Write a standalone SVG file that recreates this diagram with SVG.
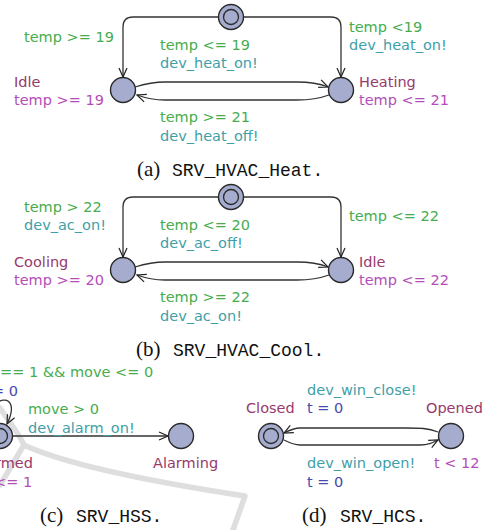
<svg xmlns="http://www.w3.org/2000/svg" width="488" height="530" viewBox="0 0 488 530">
<style>
text{font-family:"DejaVu Sans",sans-serif;font-size:14.5px}
.g{fill:#45ad4e}.s{fill:#3f9fa8}.i{fill:#b34db8}.n{fill:#973a6c}.a{fill:#4848b0}
.node{fill:#a5acce;stroke:#2a2a2a;stroke-width:1.4}
.inner{fill:none;stroke:#2a2a2a;stroke-width:1.3}
.e{fill:none;stroke:#333;stroke-width:1.3;marker-end:url(#arr)}
.cap{font-family:"Liberation Serif",serif;font-size:21px;fill:#111}
.mono{font-family:"Liberation Mono",monospace;font-size:18px;fill:#111}
.wm{fill:none;stroke:#dedede;stroke-width:5.5;stroke-linecap:round;stroke-linejoin:round}
</style>
<defs>
<marker id="arr" markerWidth="12" markerHeight="10" refX="10" refY="5" orient="auto" markerUnits="userSpaceOnUse">
<path d="M1,1 L10,5 L1,9" fill="none" stroke="#222" stroke-width="1.2"/>
</marker>
</defs>
<g id="watermark">
<path class="wm" d="M0,408 C8,420 18,432 24,445 M0,485 C8,472 16,458 24,445 C60,462 140,480 245,496 L233,530"/>
</g>
<g id="connectors">
<path class="e" d="M218.5,17 H133 Q123,17 123,27 V77"/>
<path class="e" d="M243.5,17 H331 Q341,17 341,27 V77"/>
<path class="e" d="M135,87 C148,83 155,82 165,82 H297 C310,82 318,83 328,87"/>
<path class="e" d="M329,95 C318,99 310,100 297,100 H165 C155,100 148,99 137,95"/>
<path class="e" d="M218.5,197 H133 Q123,197 123,207 V257"/>
<path class="e" d="M243.5,197 H331 Q341,197 341,207 V257"/>
<path class="e" d="M135,267 C148,263 155,262 165,262 H297 C310,262 318,263 328,267"/>
<path class="e" d="M329,275 C318,279 310,280 297,280 H165 C155,280 148,279 137,275"/>
<path class="e" d="M-9,425 C-14,394 24,390 7,424"/>
<path class="e" d="M12.5,436 H168"/>
<path class="e" d="M438,432 C428,428 420,428 405,428 H300 C294,428 290,430 284,433"/>
<path class="e" d="M284,440 C290,443 294,445 300,445 H420 C428,445 432,443 438,440"/>
</g>
<g id="a-init"><circle class="node" cx="231" cy="17" r="12.5"/><circle class="inner" cx="231" cy="17" r="7.5"/></g>
<g id="a-idle"><circle class="node" cx="123" cy="90" r="12.5"/><text class="n" x="14" y="87">Idle</text><text class="i" x="14" y="105">temp &gt;= 19</text></g>
<g id="a-heating"><circle class="node" cx="341" cy="90" r="12.5"/><text class="n" x="359" y="87">Heating</text><text class="i" x="359" y="105">temp &lt;= 21</text></g>
<g id="a-labels">
<text class="g" x="24" y="42">temp &gt;= 19</text>
<text class="g" x="160" y="50">temp &lt;= 19</text><text class="s" x="160" y="68">dev_heat_on!</text>
<text class="g" x="349" y="32">temp &lt;19</text><text class="s" x="349" y="50">dev_heat_on!</text>
<text class="g" x="160" y="122">temp &gt;= 21</text><text class="s" x="160" y="141">dev_heat_off!</text>
<text class="cap" x="137" y="176">(a)</text><text class="mono" x="172" y="176">SRV_HVAC_Heat.</text>
</g>
<g id="b-init"><circle class="node" cx="231" cy="197" r="12.5"/><circle class="inner" cx="231" cy="197" r="7.5"/></g>
<g id="b-cooling"><circle class="node" cx="123" cy="270" r="12.5"/><text class="n" x="14" y="267">Cooling</text><text class="i" x="14" y="285">temp &gt;= 20</text></g>
<g id="b-idle"><circle class="node" cx="341" cy="270" r="12.5"/><text class="n" x="359" y="267">Idle</text><text class="i" x="359" y="285">temp &lt;= 22</text></g>
<g id="b-labels">
<text class="g" x="24" y="212">temp &gt; 22</text><text class="s" x="24" y="230">dev_ac_on!</text>
<text class="g" x="160" y="230">temp &lt;= 20</text><text class="s" x="160" y="248">dev_ac_off!</text>
<text class="g" x="349" y="221">temp &lt;= 22</text>
<text class="g" x="160" y="302">temp &gt;= 22</text><text class="s" x="160" y="321">dev_ac_on!</text>
<text class="cap" x="136" y="356">(b)</text><text class="mono" x="173" y="356">SRV_HVAC_Cool.</text>
</g>
<g id="c-armed"><circle class="node" cx="0" cy="436" r="12.5"/><circle class="inner" cx="0" cy="436" r="7.5"/><text class="n" x="-15" y="468">Armed</text><text class="i" x="-6" y="487">&lt;= 1</text></g>
<g id="c-alarming"><circle class="node" cx="181" cy="436" r="12.5"/><text class="n" x="153" y="468">Alarming</text></g>
<g id="c-labels">
<text class="g" x="0" y="377">== 1 &amp;&amp; move &lt;= 0</text>
<text class="a" x="-8" y="396">= 0</text>
<text class="g" x="28" y="414">move &gt; 0</text><text class="s" x="28" y="433">dev_alarm_on!</text>
<text class="cap" x="40" y="522">(c)</text><text class="mono" x="76" y="522">SRV_HSS.</text>
</g>
<g id="d-closed"><circle class="node" cx="271" cy="436" r="12.5"/><circle class="inner" cx="271" cy="436" r="7.5"/><text class="n" x="246" y="413">Closed</text></g>
<g id="d-opened"><circle class="node" cx="451" cy="436" r="12.5"/><text class="n" x="426" y="413">Opened</text><text class="i" x="434" y="468">t &lt; 12</text></g>
<g id="d-labels">
<text class="s" x="307" y="395">dev_win_close!</text><text class="a" x="307" y="413">t = 0</text>
<text class="s" x="307" y="468">dev_win_open!</text><text class="a" x="307" y="487">t = 0</text>
<text class="cap" x="302" y="522">(d)</text><text class="mono" x="340" y="522">SRV_HCS.</text>
</g>
</svg>
